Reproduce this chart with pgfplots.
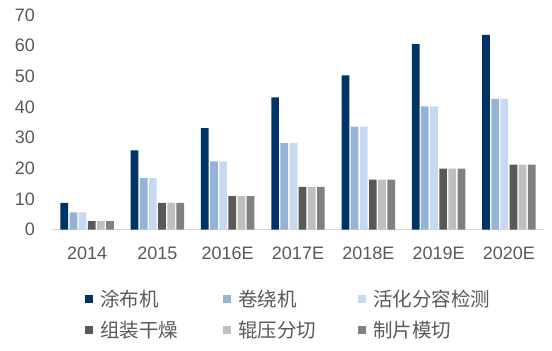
\documentclass[border=0pt]{standalone}
\usepackage{pgfplots}
\pgfplotsset{compat=1.18}
\usepackage{pgfplotstable}
\usepackage{fontspec}
\setmainfont{Liberation Sans}
\newfontfamily\cjk{Noto Sans CJK SC}
\definecolor{cA}{RGB}{0,51,102}
\definecolor{cB}{RGB}{149,179,215}
\definecolor{cC}{RGB}{198,217,241}
\definecolor{cD}{RGB}{89,89,89}
\definecolor{cE}{RGB}{191,191,191}
\definecolor{cF}{RGB}{128,128,128}
\definecolor{txt}{RGB}{89,89,89}
\definecolor{base}{RGB}{217,217,217}
\pgfplotstableread{
x c1 c2 c3 c4 c5 c6
0 8.7 5.6 5.6 2.7 2.7 2.7
1 25.8 16.8 16.8 8.7 8.7 8.7
2 33.1 22.2 22.2 10.9 10.9 10.9
3 43.1 28.2 28.2 13.9 13.9 13.9
4 50.3 33.6 33.6 16.3 16.3 16.3
5 60.5 40.2 40.2 19.9 19.9 19.9
6 63.5 42.6 42.6 21.2 21.2 21.2
}\data
\begin{document}
\begin{tikzpicture}
\useasboundingbox (0,0) rectangle (552bp,351bp);
\begin{axis}[
  at={(52bp,121.5bp)}, anchor=south west,
  scale only axis, width=492bp, height=214.5bp,
  xmin=-0.5, xmax=6.5, ymin=0, ymax=70,
  ybar=1.45bp, bar width=7.7bp,
  axis x line*=bottom, axis y line*=left,
  x axis line style={draw=base, line width=1.5bp, -},
  y axis line style={draw=none},
  major tick length=0pt,
  xtick={0,...,6},
  xticklabels={2014,2015,2016E,2017E,2018E,2019E,2020E},
  ytick={0,10,...,70},
  /pgf/number format/assume math mode=true,
  tick label style={font=\fontsize{18bp}{20bp}\selectfont, text=txt, inner sep=0pt},
  xticklabel style={anchor=north, yshift=-17.5bp},
  yticklabel style={anchor=east, xshift=-17bp},
  legend columns=3,
  legend cell align=left,
  legend style={at={(0.067,-0.396)}, anchor=west, draw=none, fill=none, inner sep=0pt,
    column sep=7bp, row sep=13bp,
    nodes={inner sep=0pt, text=txt},
    font=\fontsize{19.5bp}{22bp}\selectfont\cjk},
  legend image code/.code={\fill[#1,draw=none] (0bp,-4bp) rectangle (8bp,4bp);},
]
\addplot[fill=cA, draw=none] table[x=x,y=c1]{\data};
\addplot[fill=cB, draw=none] table[x=x,y=c2]{\data};
\addplot[fill=cC, draw=none] table[x=x,y=c3]{\data};
\addplot[fill=cD, draw=none] table[x=x,y=c4]{\data};
\addplot[fill=cE, draw=none] table[x=x,y=c5]{\data};
\addplot[fill=cF, draw=none] table[x=x,y=c6]{\data};
\legend{\makebox[116bp][l]{涂布机},\makebox[113bp][l]{卷绕机},\makebox[120bp][l]{活化分容检测},\makebox[116bp][l]{组装干燥},\makebox[113bp][l]{辊压分切},\makebox[120bp][l]{制片模切}}
\end{axis}
\end{tikzpicture}
\end{document}
